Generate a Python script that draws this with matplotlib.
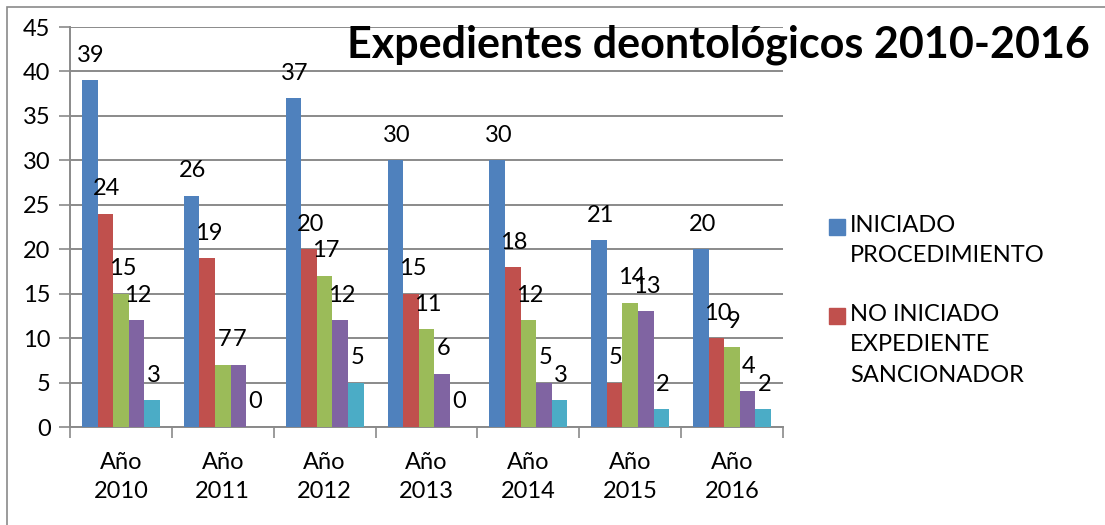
import matplotlib.pyplot as plt
import matplotlib.patches as mpatches
import numpy as np

plt.rcParams['font.family'] = ['Lato', 'DejaVu Sans']

categories = ["Año\n2010", "Año\n2011", "Año\n2012", "Año\n2013", "Año\n2014", "Año\n2015", "Año\n2016"]
iniciado = [39, 26, 37, 30, 30, 21, 20]
no_iniciado = [24, 19, 20, 15, 18, 5, 10]
serie3 = [15, 7, 17, 11, 12, 14, 9]
serie4 = [12, 7, 12, 6, 5, 13, 4]
serie5 = [3, 0, 5, 0, 3, 2, 2]

series = [iniciado, no_iniciado, serie3, serie4, serie5]
legend_labels = ["INICIADO\nPROCEDIMIENTO", "NO INICIADO\nEXPEDIENTE\nSANCIONADOR"]
colors = ["#4f81bd", "#c0504d", "#9bbb59", "#8064a2", "#4bacc6"]

W, H = 1105, 525
fig = plt.figure(figsize=(W / 100, H / 100), dpi=100)
ax = fig.add_axes([70 / W, 1 - 427 / H, 713 / W, 400 / H])

# outer chart border (only top/left visible in original)
fig.patches.append(mpatches.Rectangle((7 / W, -0.1), 1.2, 1 - 7 / H + 0.1,
                                      transform=fig.transFigure, fill=False,
                                      edgecolor="#8a8a8a", linewidth=1.2))

x = np.arange(len(categories))
w = 0.153
for i, (vals, c) in enumerate(zip(series, colors)):
    pos = x - 2 * w + i * w
    ax.bar(pos, vals, width=w, color=c, align="center", zorder=3)
    for px, v in zip(pos, vals):
        ax.annotate(str(v), (px, v), xytext=(1, 18), textcoords="offset points",
                    ha="center", va="center", fontsize=17, zorder=5)

ax.set_xlim(-0.5, len(categories) - 0.5)
ax.set_ylim(0, 45)
ax.set_yticks(range(0, 46, 5))
ax.yaxis.grid(True, color="#8a8a8a", linewidth=1.4, zorder=0)
ax.set_axisbelow(True)

ax.set_xticks(np.arange(len(categories) + 1) - 0.5)
ax.set_xticklabels([])
ax.set_xticks(x, minor=True)
ax.set_xticklabels(categories, minor=True, fontsize=17, linespacing=1.45)
ax.tick_params(axis="x", which="minor", length=0, pad=18)
ax.tick_params(axis="x", which="major", length=8, color="#8a8a8a", width=1.2)
ax.tick_params(axis="y", length=8, color="#8a8a8a", width=1.2, labelsize=17, pad=6)

for s in ["top", "right"]:
    ax.spines[s].set_visible(False)
for s in ["left", "bottom"]:
    ax.spines[s].set_color("#8a8a8a")
    ax.spines[s].set_linewidth(1.4)

# legend (only the first two entries fit in the original)
leg_y = [227, 316]
for lab, c, yy in zip(legend_labels, colors, leg_y):
    fig.patches.append(mpatches.Rectangle((829 / W, 1 - (yy + 8) / H), 16 / W, 16 / H,
                                          transform=fig.transFigure, color=c))
    fig.text(850 / W, 1 - (yy - 12) / H, lab, ha="left", va="top", fontsize=17,
             linespacing=1.55, transform=fig.transFigure)

fig.text(1090 / W, 1 - 45 / H, "Expedientes deontológicos 2010-2016",
         ha="right", va="center", fontsize=31, fontweight="bold")

fig.savefig("out.png", dpi=100)
